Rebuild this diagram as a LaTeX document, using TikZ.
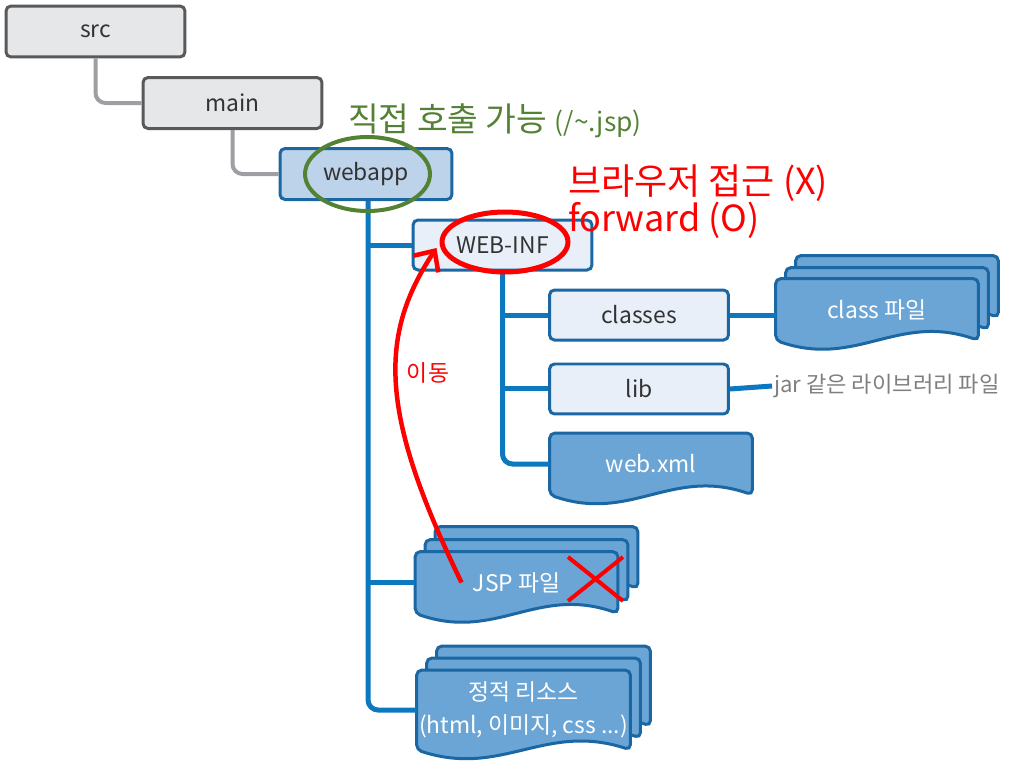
\documentclass[tikz,border=0pt]{standalone}
\usepackage{fontspec}
\setmainfont{Noto Sans CJK KR}
\usepackage{tikz}
\usetikzlibrary{arrows.meta,positioning,calc,backgrounds}
\definecolor{ink}{HTML}{333333}
\definecolor{greyfill}{HTML}{E6E7E9}
\definecolor{greyedge}{HTML}{58595B}
\definecolor{greyline}{HTML}{9D9FA2}
\definecolor{blueedge}{HTML}{1A67A3}
\definecolor{bluesoft}{HTML}{E8EFF8}
\definecolor{bluemid}{HTML}{BDD3EA}
\definecolor{bluesheet}{HTML}{6BA5D5}
\definecolor{blueline}{HTML}{0C78C0}
\definecolor{callgreen}{HTML}{548235}
\definecolor{callred}{HTML}{FF0000}
\definecolor{jargrey}{HTML}{7F7F7F}
\newcommand{\docsheet}[3]{%
  \draw[sheetline] ([shift={(#2,#3)}]#1.west) -- ([shift={(#2,#3)}]#1.north west)
    -- ([shift={(#2,#3)}]#1.north east) -- ([shift={(#2,#3)}]#1.south east)
    .. controls ($(#1.south west)!0.6!(#1.south east)+(#2,#3-28)$)
    and ($(#1.south west)!0.4!(#1.south east)+(#2,#3+28)$) .. ([shift={(#2,#3)}]#1.south west) -- cycle;}

\begin{document}
\begin{tikzpicture}[x=0.02cm,y=-0.02cm,
  box/.style={rectangle,rounded corners=0.1cm,minimum width=3.58cm,minimum height=1.02cm,
    font=\fontsize{13}{15}\selectfont,draw=blueedge,line width=0.06cm,fill=bluesoft,text=ink},
  srcbox/.style={box,draw=greyedge,fill=greyfill},
  docnode/.style={rectangle,minimum width=4.04cm,minimum height=1.22cm,inner sep=0pt,
    font=\fontsize{13}{18.5}\selectfont,text=white,align=center},
  sheetline/.style={draw=blueedge,fill=bluesheet,line width=0.06cm,rounded corners=0.1cm},
  greyarr/.style={draw=greyline,line width=0.08cm,rounded corners=0.2cm},
  bluearr/.style={draw=blueline,line width=0.1cm,rounded corners=0.2cm},
  greenring/.style={draw=callgreen,line width=0.08cm},
  redring/.style={draw=callred,line width=0.1cm},
  redarr/.style={-{Straight Barb[length=0.32cm,width=0.6cm]},draw=callred,line width=0.09cm},
  redx/.style={draw=callred,line width=0.08cm},
  greentext/.style={text=callgreen,font=\fontsize{19}{21}\selectfont,inner sep=1pt},
  redtext/.style={text=callred,font=\fontsize{20.5}{22}\selectfont,inner sep=1pt},
  movetext/.style={text=callred,font=\fontsize{13}{15}\selectfont},
  jartext/.style={text=jargrey,font=\fontsize{12.6}{14}\selectfont,inner sep=1pt},
]
  \useasboundingbox (0,0) rectangle (1013,768);

  \node[srcbox] (src) at (95.5,31.5) {src};
  \node[srcbox] (main) at (232.5,103) {main};
  \node[box,fill=bluemid,minimum width=3.44cm] (webapp) at (366,174) {webapp};
  \node[box,minimum height=1cm] (webinf) at (502.5,245) {WEB-INF};
  \node[box,minimum height=1cm] (classes) at (639,315) {classes};
  \node[box,minimum height=1cm,below=0.42cm of classes] (lib) {lib};
  \node[docnode] (webxml) at (651,464) {web.xml};
  \node[docnode] (classfile) at (877,309.5) {class 파일};
  \node[docnode] (jsp) at (516.5,582.5) {JSP 파일};
  \node[docnode,minimum width=4.26cm,minimum height=1.58cm] (static) at (523.5,710)
    {정적 리소스\\(html, 이미지, css ...)};
  \node[jartext,anchor=west] (jar) at (772,386) {jar 같은 라이브러리 파일};

  \begin{scope}[on background layer]
    \docsheet{classfile}{20}{-23} \docsheet{classfile}{10}{-11} \docsheet{classfile}{0}{0}
    \docsheet{webxml}{0}{0}
    \docsheet{jsp}{20}{-25} \docsheet{jsp}{10}{-12} \docsheet{jsp}{0}{0}
    \docsheet{static}{20}{-24} \docsheet{static}{10}{-12} \docsheet{static}{0}{0}
  \end{scope}

  \draw[greyarr] (src.south) |- (main.west);
  \draw[greyarr] (main.south) |- (webapp.west);

  \coordinate (wtop) at ([xshift=0.04cm]webapp.south);
  \draw[bluearr] (wtop) |- (static.west);
  \draw[bluearr] (wtop |- webinf.west) -- (webinf.west);
  \draw[bluearr] (wtop |- jsp.west) -- (jsp.west);
  \draw[bluearr] (webinf.south) |- (webxml.west);
  \draw[bluearr] (webinf.south |- classes.west) -- (classes.west);
  \draw[bluearr] (webinf.south |- lib.west) -- (lib.west);
  \draw[bluearr] (classes.east) -- (classes.east -| classfile.west);
  \draw[bluearr] (lib.east) -- (jar.west);

  \draw[greenring] ([xshift=0.03cm]webapp.center) ellipse [x radius=1.25cm,y radius=0.74cm];
  \draw[redring] ([shift={(2.5,-3)}]webinf.center) ellipse [x radius=1.26cm,y radius=0.6cm];

  \node[greentext,anchor=west] (direct) at (346,121)
    {직접 호출 가능 {\fontsize{15}{17}\selectfont (/\textasciitilde.jsp)}};
  \node[redtext,anchor=west] (browser) at (566,183) {브라우저 접근 (X)};
  \node[redtext,anchor=west] (fwd) at (566,220) {forward (O)};
  \node[movetext] (move) at (428,373) {이동};

  \coordinate (jspgo) at ([xshift=-1.1cm]jsp.center);
  \coordinate (webtip) at ([shift={(-66,3)}]webinf.center);
  \draw[redarr] (jspgo) .. controls +(-80,-165) and +(-60,90) .. (webtip);

  \coordinate (jspx) at ([shift={(79,-3.5)}]jsp.center);
  \draw[redx] ([shift={(-27.5,-22)}]jspx) -- ([shift={(27.5,22)}]jspx);
  \draw[redx] ([shift={(-27.5,22)}]jspx) -- ([shift={(27.5,-22)}]jspx);
\end{tikzpicture}
\end{document}
